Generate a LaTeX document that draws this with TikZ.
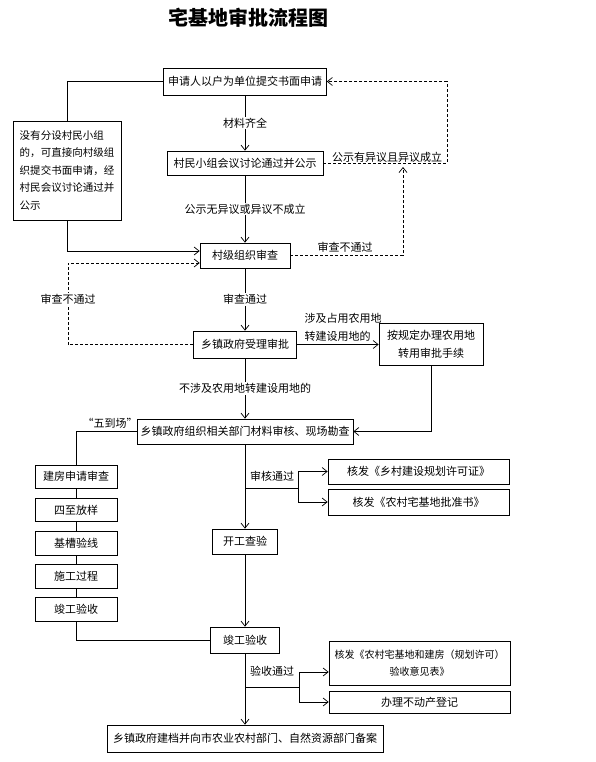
\documentclass[tikz,border=0pt]{standalone}
\usepackage{fontspec}
\setmainfont{Noto Sans CJK SC}
\usepackage{tikz}
\usetikzlibrary{arrows.meta,positioning}
\definecolor{ink}{HTML}{000000}
\tikzset{
  Box/.style 2 args={
    draw=ink, line width=0.7pt,
    minimum width=#1, minimum height=#2,
    inner sep=2pt, align=center
  },
  Arr/.style={-{Straight Barb[length=5pt,width=8pt]}},
  Fail/.style={dash pattern=on 3pt off 2pt},
  Tag/.style={fill=white, inner sep=1pt}
}

\begin{document}
\begin{tikzpicture}[x=1pt, y=-1pt, line width=0.7pt, font=\fontsize{11}{18}\selectfont]
  \useasboundingbox (0,0) rectangle (596,762);
  \node[font=\fontsize{20}{24}\selectfont\bfseries] (title) at (248,18) {宅基地审批流程图};

  % main column
  \node[Box={163pt}{27pt}] (apply) at (245,81.5) {申请人以户为单位提交书面申请};
  \node[Box={156pt}{24pt}] (group) at (245,163) {村民小组会议讨论通过并公示};
  \node[Box={90pt}{25pt}] (village) at (245,255.5) {村级组织审查};
  \node[Box={103pt}{27pt}] (town) at (245,344.5) {乡镇政府受理审批};
  \node[Box={216pt}{25pt}] (survey) at (245,431.5) {乡镇政府组织相关部门材料审核、现场勘查};
  \node[Box={65pt}{25pt}] (start) at (245,541.5) {开工查验};
  \node[Box={69pt}{26pt}] (finish) at (245,640) {竣工验收};
  \node[Box={276pt}{27pt}] (record) at (245,738.5) {乡镇政府建档并向市农业农村部门、自然资源部门备案};

  % side boxes
  \node[Box={108pt}{99pt}, align=left, font=\fontsize{10.5}{17.5}\selectfont] (nogroup) at (67,170.5)
    {没有分设村民小组\\的，可直接向村级组\\织提交书面申请，经\\村民会议讨论通过并\\公示};
  \node[Box={104pt}{42pt}] (convert) at (431,344.5) {按规定办理农用地\\转用审批手续};
  \node[Box={181pt}{25pt}] (permit) at (418.5,471.5) {核发《乡村建设规划许可证》};
  \node[Box={181pt}{26pt}] (deed) at (418.5,502) {核发《农村宅基地批准书》};
  \node[Box={181pt}{44pt}, font=\fontsize{10}{17}\selectfont] (opinion) at (419.5,663)
    {核发《农村宅基地和建房（规划许可）\\验收意见表》};
  \node[Box={181pt}{22pt}] (register) at (419.5,702) {办理不动产登记};

  % five on-site steps
  \node[Box={82pt}{23.5pt}] (s1) at (76,476.75) {建房申请审查};
  \node[Box={82pt}{23.5pt}, below=9pt of s1] (s2) {四至放样};
  \node[Box={82pt}{23.5pt}, below=9pt of s2] (s3) {基槽验线};
  \node[Box={82pt}{23.5pt}, below=9pt of s3] (s4) {施工过程};
  \node[Box={82pt}{23.5pt}, below=9pt of s4] (s5) {竣工验收};

  % main flow
  \draw[Arr] (apply) -- node[Tag] {材料齐全} (group);
  \draw[Arr] (group) -- node[Tag] {公示无异议或异议不成立} (village);
  \draw[Arr] (village) -- node[Tag] {审查通过} (town);
  \draw[Arr] (town) -- node[Tag] {不涉及农用地转建设用地的} (survey);
  \draw[Arr] (survey) -- (start);
  \draw[Arr] (start) -- (finish);
  \draw[Arr] (finish) -- (record);

  % direct application without villager group
  \draw (apply.west) -| (nogroup.north);
  \draw[Arr] (nogroup.south) |- ([yshift=4.5pt]village.west);

  % objections and rejections
  \coordinate (backA) at (447,163);
  \draw[Fail, Arr] (group.east) -- (backA) |- (apply.east);
  \node[anchor=south] (objection) at (387,166) {公示有异议且异议成立};
  \coordinate (backB) at (403,167);
  \draw[Fail, Arr] (village.east) -| (backB);
  \node (failB) at (345,247) {审查不通过};
  \coordinate (turnC) at (68,344.5);
  \draw[Fail, Arr] (town.west) -- (turnC) |- ([yshift=-7.5pt]village.west);
  \node[Tag] (failC) at (68,299) {审查不通过};

  % farmland conversion
  \draw[Arr] (town.east) -- (convert.west);
  \node[anchor=west, align=left] (farm) at (301,327) {涉及占用农用地\\转建设用地的};
  \draw[Arr] (convert.south) |- (survey.east);

  % on-site checks
  \draw (survey.west) -| (s1.north);
  \node (onsite) at (110,423) {“五到场”};
  \draw (s1) -- (s2);
  \draw (s2) -- (s3);
  \draw (s3) -- (s4);
  \draw (s4) -- (s5);
  \draw (s5.south) |- (finish.west);

  % certificates after review
  \coordinate (forkA) at (245,488);
  \coordinate (splitA) at (298,488);
  \draw (forkA) -- (splitA);
  \draw[Arr] (splitA) |- (permit.west);
  \draw[Arr] (splitA) |- (deed.west);
  \node (passA) at (272,476) {审核通过};

  % after acceptance
  \coordinate (forkB) at (245,687);
  \coordinate (splitB) at (299,687);
  \draw (forkB) -- (splitB);
  \draw[Arr] (splitB) |- ([yshift=-9pt]opinion.west);
  \draw[Arr] (splitB) |- (register.west);
  \node (passB) at (272,671) {验收通过};
\end{tikzpicture}
\end{document}
